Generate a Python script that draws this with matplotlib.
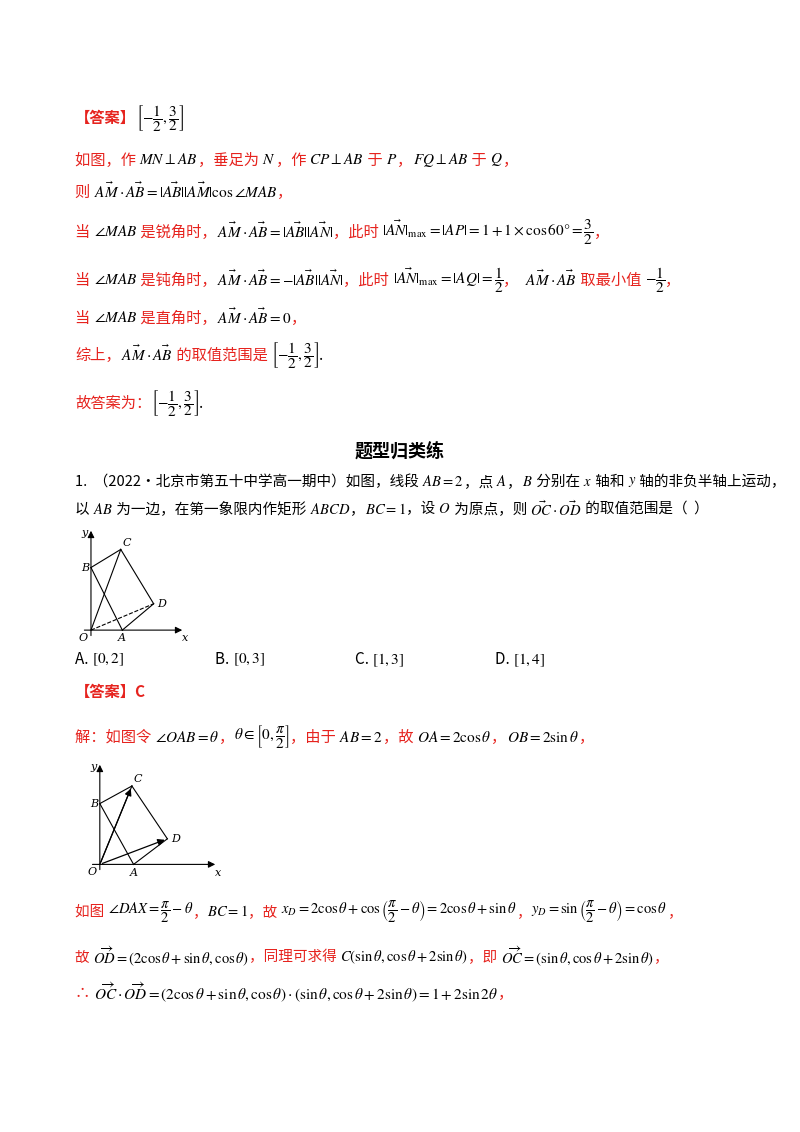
import matplotlib
matplotlib.use("Agg")
import matplotlib.pyplot as plt

W, H = 800, 1132
plt.rcParams['font.family'] = ['Noto Sans CJK SC', 'DejaVu Sans']
plt.rcParams['mathtext.fontset'] = 'stix'
RED = '#e6231e'
K = 'black'

fig = plt.figure(figsize=(W/100, H/100), dpi=100)
fig.patch.set_facecolor('white')
R = fig.canvas.get_renderer()

def line(x, y, segs, size=11, bold=False):
    for s, c in segs:
        b = bold or s.startswith('【')
        t = fig.text(x/W, 1-y/H, s, color=c, fontsize=size, va='center', ha='left',
                     fontweight='bold' if b else 'normal')
        x += t.get_window_extent(R).width
    return x

iv = r'$\left[-\dfrac{1}{2},\dfrac{3}{2}\right]$'
amab = r'$\vec{AM}\cdot\vec{AB}$'

line(75, 118, [('【答案】', RED), (iv, K)])
line(75, 160, [('如图，作 ', RED), (r'$MN\perp AB$', K), ('，垂足为 ', RED), (r'$N$', K), ('，作 ', RED),
               (r'$CP\perp AB$', K), (' 于 ', RED), (r'$P$', K), ('，', RED), (r'$FQ\perp AB$', K),
               (' 于 ', RED), (r'$Q$', K), ('，', RED)])
line(75, 192, [('则 ', RED), (r'$\vec{AM}\cdot\vec{AB}=|\vec{AB}||\vec{AM}|\cos\angle MAB$', K), ('，', RED)])
line(75, 232, [('当 ', RED), (r'$\angle MAB$', K), (' 是锐角时，', RED),
               (r'$\vec{AM}\cdot\vec{AB}=|\vec{AB}||\vec{AN}|$', K), ('，此时 ', RED),
               (r'$|\vec{AN}|_{\max}=|AP|=1+1\times\cos60°=\dfrac{3}{2}$', K), ('，', RED)])
line(75, 280, [('当 ', RED), (r'$\angle MAB$', K), (' 是钝角时，', RED),
               (r'$\vec{AM}\cdot\vec{AB}=-|\vec{AB}||\vec{AN}|$', K), ('，此时 ', RED),
               (r'$|\vec{AN}|_{\max}=|AQ|=\dfrac{1}{2}$', K), ('，  ', RED), (amab, K),
               (' 取最小值 ', RED), (r'$-\dfrac{1}{2}$', K), ('，', RED)])
line(75, 318, [('当 ', RED), (r'$\angle MAB$', K), (' 是直角时，', RED), (r'$\vec{AM}\cdot\vec{AB}=0$', K), ('，', RED)])
line(75, 355, [('综上，', RED), (amab, K), (' 的取值范围是 ', RED), (iv, K), ('.', K)])
line(75, 403, [('故答案为：', RED), (iv, K), ('.', K)])

fig.text(0.5, 1-451/H, '题型归类练', ha='center', va='center', fontsize=13, fontweight='bold')
line(75, 482, [('1.  （2022·北京市第五十中学高一期中）如图，线段 ', K), (r'$AB=2$', K),
               ('，点 ', K), (r'$A$', K), ('，', K), (r'$B$', K), (' 分别在 ', K), (r'$x$', K),
               (' 轴和 ', K), (r'$y$', K), (' 轴的非负半轴上运动，', K)], size=10.5)
line(75, 509, [('以 ', K), (r'$AB$', K), (' 为一边，在第一象限内作矩形 ', K), (r'$ABCD$', K), ('，', K),
               (r'$BC=1$', K), ('，设 ', K), (r'$O$', K), (' 为原点，则 ', K), (r'$\vec{OC}\cdot\vec{OD}$', K),
               (' 的取值范围是（  ）', K)], size=10.5)

opts = ['A', 'B', 'C', 'D']
optvals = [r'$[0,2]$', r'$[0,3]$', r'$[1,3]$', r'$[1,4]$']
optx = [75, 215, 355, 495]
for o, v, xx in zip(opts, optvals, optx):
    line(xx, 660, [(o + '. ', K), (v, K)], size=11)

line(75, 692, [('【答案】C', RED)])
line(75, 737, [('解：如图令 ', RED), (r'$\angle OAB=\theta$', K), ('，', RED),
               (r'$\theta\in\left[0,\dfrac{\pi}{2}\right]$', K), ('，由于 ', RED), (r'$AB=2$', K),
               ('，故 ', RED), (r'$OA=2\cos\theta$', K), ('，', RED), (r'$OB=2\sin\theta$', K), ('，', RED)])
line(75, 912, [('如图 ', RED), (r'$\angle DAX=\dfrac{\pi}{2}-\theta$', K), ('，', RED), (r'$BC=1$', K),
               ('，故 ', RED), (r'$x_D=2\cos\theta+\cos\left(\dfrac{\pi}{2}-\theta\right)=2\cos\theta+\sin\theta$', K),
               ('，', RED), (r'$y_D=\sin\left(\dfrac{\pi}{2}-\theta\right)=\cos\theta$', K), ('，', RED)], size=10.5)
line(75, 957, [('故 ', RED), (r'$\overrightarrow{OD}=(2\cos\theta+\sin\theta,\cos\theta)$', K), ('，同理可求得 ', RED),
               (r'$C(\sin\theta,\cos\theta+2\sin\theta)$', K), ('，即 ', RED),
               (r'$\overrightarrow{OC}=(\sin\theta,\cos\theta+2\sin\theta)$', K), ('，', RED)], size=10.5)
line(75, 993, [('∴ ', RED), (r'$\overrightarrow{OC}\cdot\overrightarrow{OD}=(2\cos\theta+\sin\theta,\cos\theta)\cdot(\sin\theta,\cos\theta+2\sin\theta)=1+2\sin2\theta$', K), ('，', RED)])

# diagrams (local units)
O = (0, 0); A = (1.0, 0); B = (0, 1.9); C = (0.95, 2.45); D = (2.0, 0.8)
def diagram(x0, y0, w, h, xmax, ymax, arrows):
    ax = fig.add_axes([x0/W, 1-(y0+h)/H, w/W, h/H])
    ax.set_xlim(-0.35, xmax); ax.set_ylim(-0.3, ymax); ax.axis('off')
    ax.annotate('', xy=(xmax, 0), xytext=(-0.3, 0), arrowprops=dict(arrowstyle='-|>', lw=0.8, color='k'))
    ax.annotate('', xy=(0, ymax), xytext=(0, -0.25), arrowprops=dict(arrowstyle='-|>', lw=0.8, color='k'))
    for p, q in [(A, B), (B, C), (C, D), (D, A), (O, C)]:
        ax.plot([p[0], q[0]], [p[1], q[1]], color='k', lw=0.8)
    if arrows:
        for q in [C, D]:
            ax.annotate('', xy=q, xytext=O, arrowprops=dict(arrowstyle='-|>', lw=0.9, color='k'))
    else:
        ax.plot([O[0], D[0]], [O[1], D[1]], color='k', lw=0.8, ls='--')
    kw = dict(fontsize=8, style='italic', family='DejaVu Serif')
    ax.text(-0.1, -0.08, 'O', ha='right', va='top', **kw)
    ax.text(A[0], -0.1, 'A', ha='center', va='top', **kw)
    ax.text(-0.05, B[1], 'B', ha='right', va='center', **kw)
    ax.text(C[0]+0.05, C[1]+0.05, 'C', ha='left', va='bottom', **kw)
    ax.text(D[0]+0.1, D[1], 'D', ha='left', va='center', **kw)
    ax.text(xmax, -0.1, 'x', ha='center', va='top', **kw)
    ax.text(-0.1, ymax, 'y', ha='right', va='top', **kw)

diagram(80, 528, 105, 112, 3.0, 3.1, False)
diagram(88, 762, 130, 112, 3.5, 3.2, True)

fig.savefig('out.png', dpi=100, facecolor='white')
